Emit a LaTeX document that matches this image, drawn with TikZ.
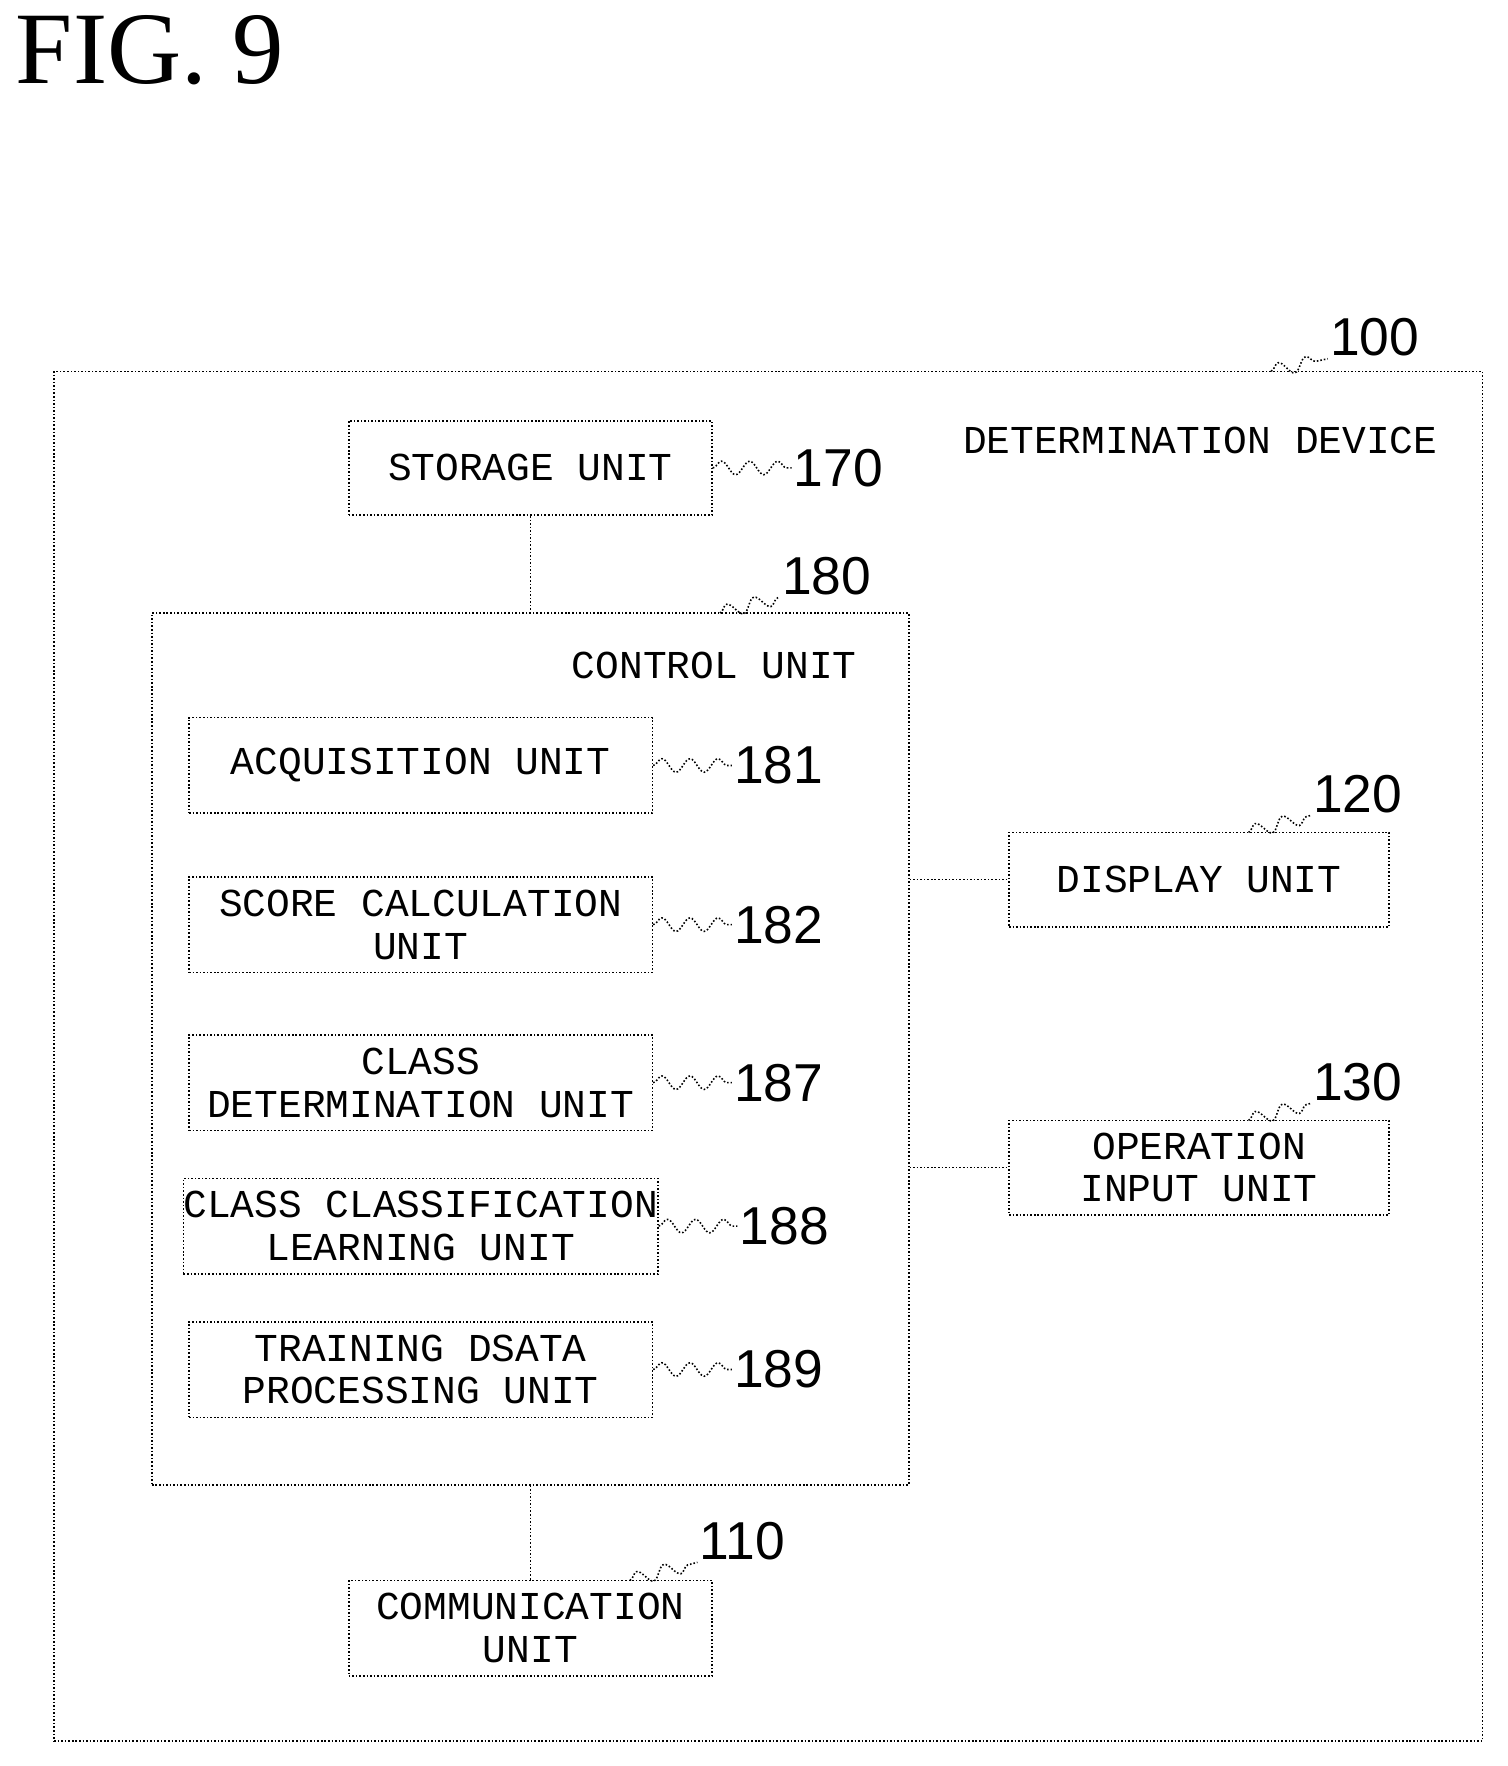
\documentclass[tikz,border=0pt]{standalone}
\usepackage{fontspec}
\setmainfont{Liberation Serif}
\newfontfamily\boxfont{Liberation Mono}
\newfontfamily\numfont{Liberation Sans}
\usetikzlibrary{positioning}
\usetikzlibrary{decorations.pathmorphing}

\tikzset{
  unit/.style={draw, densely dotted, thick, align=center, inner sep=0pt,
    font=\boxfont\fontsize{20}{21.6}\selectfont},
  num/.style={font=\numfont\fontsize{27}{28}\selectfont, inner sep=1pt},
  lead/.style={thick, densely dotted, decorate,
    decoration={snake, amplitude=1.2mm, segment length=5mm}},
  link/.style={thick, densely dotted}
}

\begin{document}
\begin{tikzpicture}[x=0.02cm, y=-0.02cm]

% Set the size of the figure
\useasboundingbox (0,0) rectangle (1340,1570);

\node[font=\fontsize{52}{54}\selectfont, anchor=west] (fig) at (8,45) {FIG. 9};

% Outer device
\node[unit, minimum width=25.4cm, minimum height=24.36cm] (device) at (683,939) {};
\node[unit, draw=none] (devname) at (1067,392) {DETERMINATION DEVICE};
\node[num] (n100) at (1222,300) {100};
\coordinate (d100) at (1130,330);
\draw[lead] (d100) -- (n100.south west);

% Storage and control
\node[unit, minimum width=6.46cm, minimum height=1.68cm] (storage) at (471.5,416) {STORAGE UNIT};
\node[num, right=1.4cm of storage] (n170) {170};
\draw[lead] (storage.east) -- (n170.west);

\node[unit, minimum width=13.46cm, minimum height=15.5cm] (control) at (471.5,932.5) {};
\node[unit, draw=none] (ctrlname) at (635,592) {CONTROL UNIT};
\node[num] (n180) at (735,512) {180};
\coordinate (c180) at (640,545);
\draw[lead] (c180) -- (n180.south west);
\draw[link] (storage) -- (control);

% Inner units
\foreach \name/\y/\txt/\n in {acq/680.5/{ACQUISITION UNIT}/181,
    score/822/{SCORE CALCULATION\\UNIT}/182,
    classdet/962.5/{CLASS\\DETERMINATION UNIT}/187,
    learn/1090/{CLASS CLASSIFICATION\\LEARNING UNIT}/188,
    train/1217.5/{TRAINING DSATA\\PROCESSING UNIT}/189} {
  \node[unit, minimum width=8.24cm, minimum height=1.7cm] (\name) at (374,\y) {\txt};
  \node[num, right=1.4cm of \name] (n\n) {\n};
  \draw[lead] (\name.east) -- (n\n.west);
}

% Display and operation input
\node[unit, minimum width=6.76cm, minimum height=1.68cm] (display) at (1066,782) {DISPLAY UNIT};
\node[num] (n120) at (1207,706) {120};
\coordinate (d120) at (1110,740);
\draw[lead] (d120) -- (n120.south west);
\draw[link] (control.east |- display) -- (display.west);

\node[unit, minimum width=6.76cm, minimum height=1.68cm] (opin) at (1066,1038) {OPERATION\\INPUT UNIT};
\node[num] (n130) at (1207,962) {130};
\coordinate (o130) at (1110,996);
\draw[lead] (o130) -- (n130.south west);
\draw[link] (control.east |- opin) -- (opin.west);

% Communication
\node[unit, minimum width=6.46cm, minimum height=1.7cm] (comm) at (471.5,1447.5) {COMMUNICATION\\UNIT};
\node[num] (n110) at (660,1370) {110};
\coordinate (c110) at (560,1405);
\draw[lead] (c110) -- (n110.south west);
\draw[link] (control) -- (comm);

\end{tikzpicture}
\end{document}
